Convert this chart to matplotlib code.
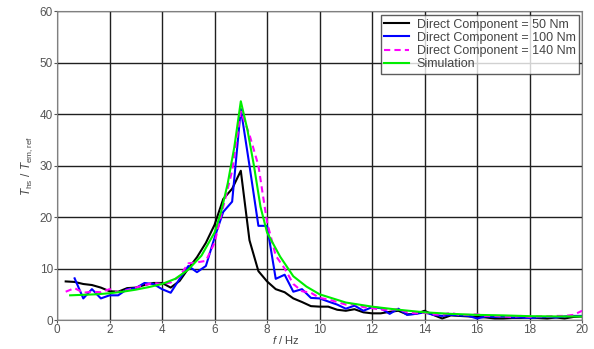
import numpy as np
import matplotlib
matplotlib.use("Agg")
import matplotlib.pyplot as plt

plt.rcParams['font.family'] = ['Liberation Sans', 'DejaVu Sans']
plt.rcParams['mathtext.fontset'] = 'custom'
plt.rcParams['mathtext.it'] = 'Liberation Sans:italic'
plt.rcParams['mathtext.rm'] = 'Liberation Sans'

# measured series, sampled every 1/3 Hz
f_meas = [0.33, 0.67, 1.0, 1.33, 1.67, 2.0, 2.33, 2.67, 3.0, 3.33, 3.67, 4.0,
          4.33, 4.67, 5.0, 5.33, 5.67, 6.0, 6.33, 6.67, 7.0, 7.33, 7.67, 8.0,
          8.33, 8.67, 9.0, 9.33, 9.67, 10.0, 10.33, 10.67, 11.0, 11.33, 11.67, 12.0,
          12.33, 12.67, 13.0, 13.33, 13.67, 14.0, 14.33, 14.67, 15.0, 15.33, 15.67, 16.0,
          16.33, 16.67, 17.0, 17.33, 17.67, 18.0, 18.33, 18.67, 19.0, 19.33, 19.67, 20.0]

dc50 = [7.5, 7.4, 7.0, 6.8, 6.3, 5.6, 5.5, 6.2, 6.3, 6.8, 7.2, 7.2,
        6.3, 7.6, 10.0, 12.2, 15.0, 18.5, 23.5, 25.5, 29.0, 15.5, 9.5, 7.5,
        6.0, 5.4, 4.2, 3.5, 2.7, 2.6, 2.6, 2.0, 1.8, 2.1, 1.5, 1.3,
        1.3, 1.6, 1.8, 1.1, 1.2, 1.8, 1.0, 0.3, 0.9, 0.8, 0.7, 0.6,
        0.5, 0.3, 0.3, 0.4, 0.4, 0.5, 0.4, 0.3, 0.5, 0.3, 0.6, 0.7]

# 100 Nm series starts at 0.67 Hz
dc100 = [8.1, 4.2, 6.0, 4.2, 4.8, 4.8, 6.0, 6.2, 7.2, 7.0, 6.0,
         5.3, 8.0, 10.5, 9.3, 10.5, 16.0, 21.0, 23.0, 41.0, 30.0, 18.3, 18.3,
         8.0, 8.8, 5.5, 6.0, 4.3, 4.2, 3.6, 3.0, 2.2, 2.8, 1.8, 2.5,
         2.3, 1.2, 2.2, 1.0, 1.2, 1.5, 1.0, 0.8, 1.0, 0.9, 0.8, 0.3,
         0.7, 0.6, 0.7, 0.5, 0.5, 0.4, 0.5, 0.6, 0.5, 0.7, 0.8, 0.8]

dc140 = [5.5, 6.2, 5.3, 5.5, 5.4, 6.0, 5.4, 5.8, 6.3, 6.8, 7.2, 7.0,
         7.3, 8.5, 11.0, 11.2, 11.5, 15.0, 22.0, 29.0, 40.5, 36.0, 30.0, 19.0,
         12.5, 10.0, 7.0, 5.6, 5.3, 4.3, 4.0, 3.5, 3.0, 3.1, 2.5, 2.3,
         2.0, 2.0, 2.1, 1.5, 1.3, 1.4, 1.1, 1.0, 1.4, 1.0, 1.0, 1.1,
         0.8, 0.8, 0.7, 0.6, 0.8, 0.6, 0.7, 0.7, 0.8, 0.8, 1.0, 1.8]

# simulation
f_sim = [0.5, 1.0, 1.5, 2.0, 2.5, 3.0, 3.5, 4.0, 4.5, 5.0, 5.5, 6.0, 6.25, 6.5,
         6.75, 7.0, 7.25, 7.5, 7.75, 8.0, 8.5, 9.0, 9.5, 10.0, 11.0, 12.0, 13.0,
         14.0, 15.0, 16.0, 17.0, 18.0, 19.0, 20.0]
sim = [4.8, 4.9, 5.0, 5.2, 5.5, 5.9, 6.4, 7.0, 8.0, 9.8, 12.5, 17.0, 21.0, 26.5,
       33.5, 42.5, 37.0, 30.0, 22.0, 17.0, 12.3, 8.5, 6.5, 5.0, 3.4, 2.6, 2.0,
       1.5, 1.2, 1.0, 0.9, 0.75, 0.7, 0.7]

fig = plt.figure(figsize=(5.94, 3.49), dpi=100)
ax = fig.add_axes([0.096, 0.083, 0.884, 0.885])

ax.plot(f_meas, dc50, color='black', lw=1.5, label='Direct Component = 50 Nm')
ax.plot(f_meas[1:], dc100, color='#0000ff', lw=1.5, label='Direct Component = 100 Nm')
ax.plot(f_meas, dc140, color='#ff00ff', lw=1.5, ls=(0, (3, 2)), label='Direct Component = 140 Nm')
ax.plot(f_sim, sim, color='#00ee00', lw=1.5, label='Simulation')

ax.set_xlim(0, 20)
ax.set_ylim(0, 60)
ax.set_xticks(np.arange(0, 21, 2))
ax.set_yticks(np.arange(0, 61, 10))
ax.grid(True, color='#202020', lw=1.0)
ax.set_axisbelow(True)
for s in ax.spines.values():
    s.set_color('#808080')
ax.tick_params(labelsize=8.5, colors='#555555', length=2, direction='out', pad=1)

ax.set_xlabel(r'$f$ / Hz', fontsize=8, color='#444444')
ax.xaxis.set_label_coords(0.435, -0.045)
ax.set_ylabel(r'$T_{\rm hs}$ / $T_{\rm em,ref}$', fontsize=8.5, color='#444444', labelpad=3)

leg = ax.legend(loc='upper right', fontsize=9, frameon=True, fancybox=False,
                handlelength=2.0, borderpad=0.3, labelspacing=0.1,
                bbox_to_anchor=(0.995, 0.988), borderaxespad=0.0, handletextpad=0.6)
leg.get_frame().set_edgecolor('#333333')
leg.get_frame().set_linewidth(1.0)
for t in leg.get_texts():
    t.set_color('#444444')

fig.savefig('out.png', dpi=100)
